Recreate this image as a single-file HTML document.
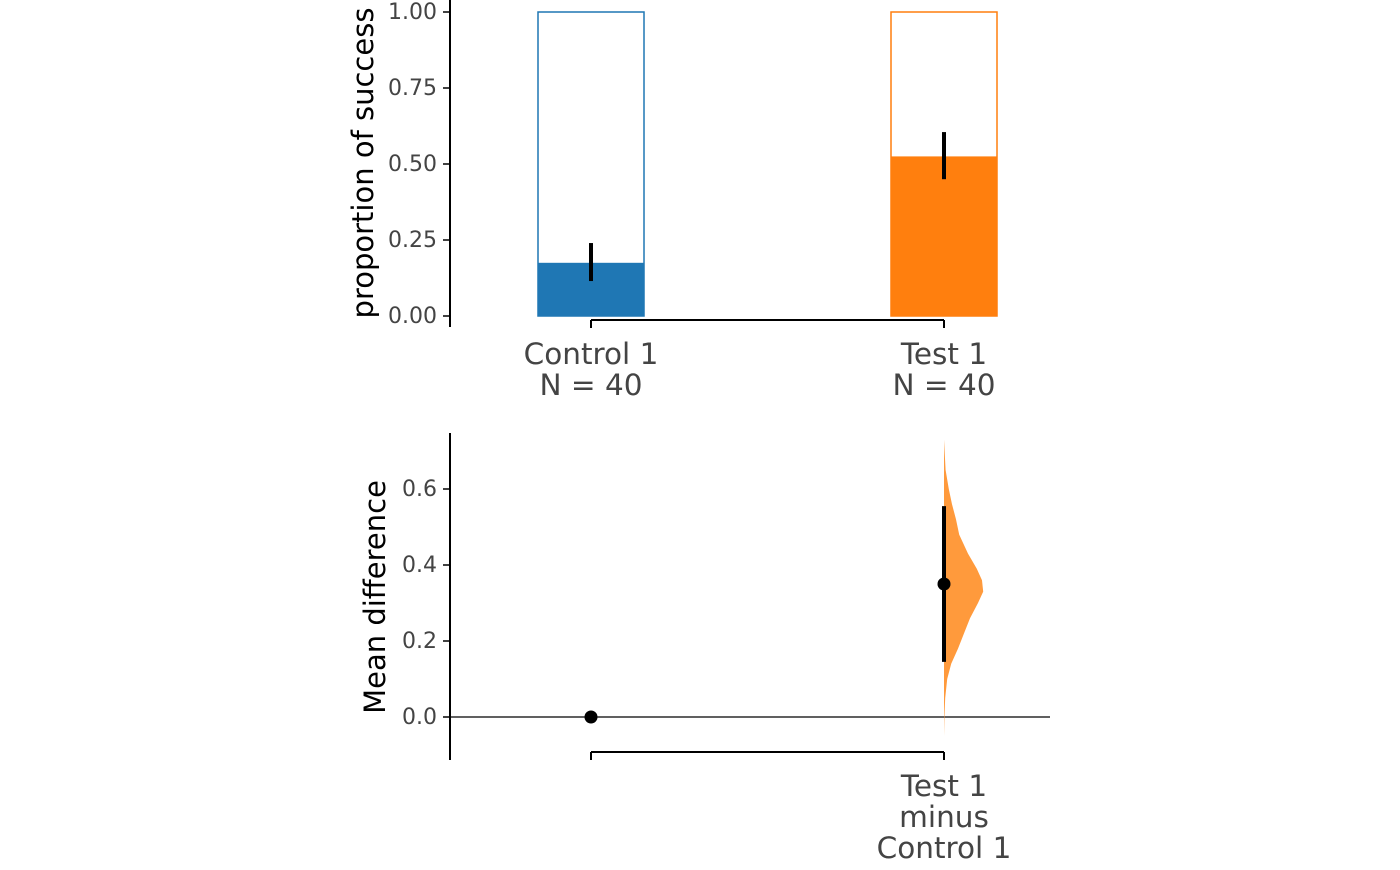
<!DOCTYPE html>
<html><head><meta charset="utf-8"><style>
body{margin:0;background:#fff;}
svg text{font-family:"DejaVu Sans","Liberation Sans",sans-serif;}
</style></head><body>
<svg id="chart" width="1400" height="865"></svg>
<script>
const groups = ["Control 1", "Test 1"];
const groupN = [40, 40];
const proportions = [0.175, 0.525];
const ciLow = [0.115, 0.45];
const ciHigh = [0.24, 0.605];
const topTicks = [0, 0.25, 0.5, 0.75, 1.0];
const diffTicks = [0, 0.2, 0.4, 0.6];
const meanDiff = 0.35;
const diffCiLow = 0.145;
const diffCiHigh = 0.555;
const violinValues = [-0.05, 0.0, 0.05, 0.1, 0.14, 0.18, 0.22, 0.26, 0.30, 0.33, 0.36, 0.39, 0.43, 0.48, 0.52, 0.56, 0.60, 0.65, 0.73];
const violinDensity = [0, 0.01, 0.03, 0.08, 0.18, 0.35, 0.5, 0.65, 0.85, 0.98, 0.95, 0.82, 0.6, 0.38, 0.3, 0.2, 0.12, 0.04, 0];
const colors = ["#1f77b4", "#ff7f0e"];

const svg = document.getElementById('chart');
const NS = "http://www.w3.org/2000/svg";
function mk(tag, attrs, parent){const e=document.createElementNS(NS,tag);for(const k in attrs)e.setAttribute(k,attrs[k]);(parent||svg).appendChild(e);return e;}
const xPos = i => 591 + i*353;
const yTop = v => 316 - v*304;
const yBot = v => 717 - v*380;

let ax = mk('line',{x1:450,y1:0,x2:450,y2:327,stroke:'#000','stroke-width':2});

topTicks.forEach(t=>{
  const tk=mk('line',{x1:443,x2:450,y1:yTop(t),y2:yTop(t),stroke:'#000','stroke-width':1.5});
  
  const tx=mk('text',{x:437,y:yTop(t)+7,'text-anchor':'end','font-size':22,fill:'#444'});
  tx.textContent=t.toFixed(2);
  
});
let yt=mk('text',{x:373,y:163,'text-anchor':'middle','font-size':29,fill:'#000',transform:'rotate(-90 373 163)'});
yt.textContent='proportion of success';

groups.forEach((g,i)=>{
  const cx=xPos(i);
  const outline=mk('rect',{x:cx-53,y:yTop(1),width:106,height:yTop(0)-yTop(1),fill:'none',stroke:colors[i],'stroke-width':1.5});
  
  const bar=mk('rect',{x:cx-53,y:yTop(proportions[i]),width:106,height:yTop(0)-yTop(proportions[i]),fill:colors[i]});
  
  const eb=mk('line',{x1:cx,x2:cx,y1:yTop(ciLow[i]),y2:yTop(ciHigh[i]),stroke:'#000','stroke-width':4});
  
  const tk=mk('line',{x1:cx,x2:cx,y1:320,y2:328,stroke:'#000','stroke-width':2});
  
  const l1=mk('text',{x:cx,y:364,'text-anchor':'middle','font-size':29.5,fill:'#444'});l1.textContent=g;
  
  const l2=mk('text',{x:cx,y:395,'text-anchor':'middle','font-size':29.5,fill:'#444'});l2.textContent='N = '+groupN[i];
  
});
let xa=mk('line',{x1:xPos(0),x2:xPos(1),y1:320,y2:320,stroke:'#000','stroke-width':2});


let ax2=mk('line',{x1:450,y1:433,x2:450,y2:760,stroke:'#000','stroke-width':2});

diffTicks.forEach(t=>{
  const tk=mk('line',{x1:443,x2:450,y1:yBot(t),y2:yBot(t),stroke:'#000','stroke-width':1.5});
  
  const tx=mk('text',{x:437,y:yBot(t)+7,'text-anchor':'end','font-size':22,fill:'#444'});
  tx.textContent=t.toFixed(1);
  
});
let yt2=mk('text',{x:385,y:597,'text-anchor':'middle','font-size':29,fill:'#000',transform:'rotate(-90 385 597)'});
yt2.textContent='Mean difference';

let zl=mk('line',{x1:450,x2:1050,y1:yBot(0),y2:yBot(0),stroke:'#000','stroke-width':1.3});

const vx=xPos(1);
let d='M'+vx+','+yBot(violinValues[0]);
violinValues.forEach((v,i)=>{d+=' L'+(vx+violinDensity[i]*40)+','+yBot(v);});
d+=' Z';
let vp=mk('path',{d:d,fill:'#ff9a3c'});

let dci=mk('line',{x1:vx,x2:vx,y1:yBot(diffCiLow),y2:yBot(diffCiHigh),stroke:'#000','stroke-width':4});

let dd=mk('circle',{cx:vx,cy:yBot(meanDiff),r:6.5,fill:'#000'});

let cd=mk('circle',{cx:xPos(0),cy:yBot(0),r:6.5,fill:'#000'});

let xa2=mk('line',{x1:xPos(0),x2:xPos(1),y1:752,y2:752,stroke:'#000','stroke-width':2});

[0,1].forEach(i=>{
  const tk=mk('line',{x1:xPos(i),x2:xPos(i),y1:752,y2:760,stroke:'#000','stroke-width':2});
  
});
['Test 1','minus','Control 1'].forEach((s,k)=>{
  const t=mk('text',{x:vx,y:796+k*31,'text-anchor':'middle','font-size':29.5,fill:'#444'});t.textContent=s;
  
});
</script>
</body></html>
